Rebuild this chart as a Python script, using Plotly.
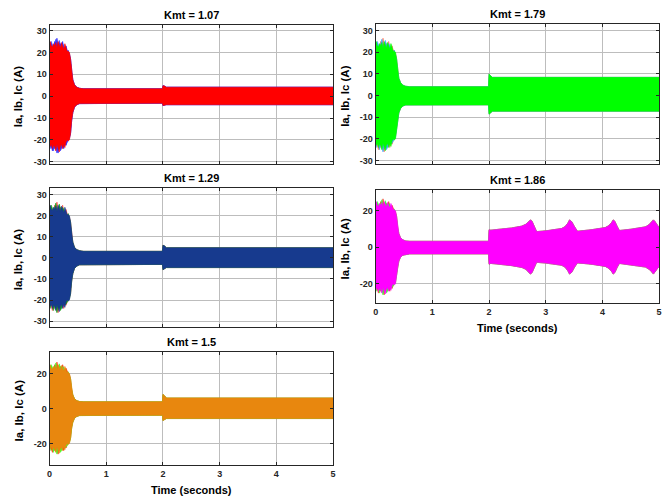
import plotly.graph_objects as go

# ---- data -------------------------------------------------------------
# Run-up envelope (first 0.35 s), peak values per phase (a, b, c)
T_RUNUP = [0.000, 0.010, 0.030, 0.050, 0.070, 0.090, 0.110, 0.130, 0.150, 0.170,
           0.190, 0.210, 0.230, 0.250, 0.270, 0.290, 0.310, 0.330, 0.350]
RUNUP_UP_A = [25.0, 23.0, 24.0, 21.0, 22.0, 25.0, 23.0, 26.5, 23.0, 22.0,
              24.0, 23.0, 25.0, 22.0, 21.0, 23.0, 21.0, 20.0, 19.5]
RUNUP_LO_A = [-24.0, -21.0, -23.0, -25.0, -21.0, -24.0, -23.0, -24.0, -26.0, -23.0,
              -24.0, -23.5, -22.0, -24.0, -21.0, -22.5, -21.0, -19.5, -19.0]
RUNUP_UP_B = [21.0, 24.0, 25.0, 23.0, 22.0, 24.0, 26.0, 23.0, 22.0, 25.5,
              23.0, 22.0, 24.0, 23.0, 22.0, 21.0, 20.0, 21.0, 19.0]
RUNUP_LO_B = [-22.0, -24.0, -21.0, -23.0, -25.0, -22.0, -24.0, -26.0, -23.0, -22.0,
              -25.0, -24.0, -23.0, -21.0, -22.0, -22.0, -21.0, -20.0, -19.5]
RUNUP_UP_C = [22.0, 25.0, 23.0, 22.5, 24.0, 23.0, 24.5, 22.0, 25.0, 23.0,
              22.0, 24.5, 23.0, 21.5, 24.0, 22.0, 20.5, 20.5, 20.0]
RUNUP_LO_C = [-20.0, -23.0, -22.0, -24.0, -22.5, -23.0, -25.0, -22.0, -24.0, -25.5,
              -23.0, -22.0, -24.0, -22.0, -23.5, -21.0, -20.0, -20.5, -20.0]

# Settling and post-2 s envelope (shared by the three phases)
T_TAIL = [0.37, 0.39, 0.41, 0.44, 0.48, 0.53, 0.60, 1.99, 2.00, 2.03, 2.06, 5.00]

TAIL_UP_107 = [17.0, 11.0, 7.5, 5.2, 4.1, 3.6, 3.4, 3.4, 4.8, 4.6, 4.1, 4.1]
TAIL_LO_107 = [-17.0, -11.0, -7.5, -5.0, -3.9, -3.4, -3.2, -3.2, -4.3, -4.2, -3.9, -3.9]

TAIL_UP_129 = [17.0, 11.0, 7.5, 5.0, 3.9, 3.4, 3.1, 3.1, 6.0, 5.6, 4.8, 4.8]
TAIL_LO_129 = [-17.0, -11.0, -7.5, -5.0, -3.9, -3.3, -3.1, -3.1, -5.6, -5.3, -4.6, -4.6]

TAIL_UP_150 = [17.0, 11.0, 7.8, 5.6, 4.5, 4.0, 3.8, 3.8, 8.0, 7.2, 6.0, 6.0]
TAIL_LO_150 = [-17.0, -11.0, -7.8, -5.6, -4.5, -4.0, -3.8, -3.8, -6.8, -6.4, -5.7, -5.7]

TAIL_UP_179 = [17.0, 11.5, 8.0, 6.0, 4.8, 4.3, 4.1, 4.1, 10.0, 9.0, 8.4, 8.4]
TAIL_LO_179 = [-17.0, -11.5, -8.0, -6.0, -4.8, -4.4, -4.3, -4.3, -8.6, -7.8, -7.2, -7.2]

T_TAIL_186 = [0.37, 0.39, 0.41, 0.44, 0.48, 0.53, 0.60, 1.99,
              2.00, 2.03, 2.10, 2.40, 2.58, 2.65, 2.70, 2.73, 2.76, 2.80, 2.84,
              3.00, 3.28, 3.34, 3.39, 3.42, 3.46, 3.51, 3.56,
              3.80, 4.05, 4.11, 4.16, 4.19, 4.22, 4.26, 4.30,
              4.50, 4.76, 4.82, 4.87, 4.90, 4.93, 4.97, 5.00]
TAIL_UP_186 = [17.0, 11.0, 7.5, 5.2, 4.1, 3.5, 3.3, 3.3,
               9.6, 9.4, 9.6, 10.6, 11.6, 12.6, 14.0, 15.0, 14.2, 11.5, 8.6,
               9.0, 10.3, 11.3, 13.2, 15.0, 14.0, 11.2, 8.8,
               9.6, 10.8, 11.8, 13.4, 15.0, 14.2, 11.5, 9.2,
               9.9, 11.2, 12.3, 13.8, 15.0, 14.0, 12.0, 10.8]
TAIL_LO_186 = [-17.0, -11.0, -7.5, -5.4, -4.3, -3.8, -3.6, -3.6,
               -9.2, -8.8, -9.0, -10.0, -11.0, -12.0, -13.5, -14.6, -13.8, -11.0, -8.2,
               -8.6, -9.8, -10.8, -12.8, -14.6, -13.6, -10.8, -8.5,
               -9.2, -10.4, -11.4, -13.0, -14.6, -13.8, -11.0, -8.8,
               -9.5, -10.8, -11.9, -13.4, -14.6, -13.6, -11.6, -10.4]

KMT_LABELS = ["Kmt = 1.07", "Kmt = 1.29", "Kmt = 1.5", "Kmt = 1.79", "Kmt = 1.86"]
Y_TICKS_TALL = [-30, -20, -10, 0, 10, 20, 30]
Y_TICKS_SHORT = [-20, 0, 20]
X_TICKS = [0, 1, 2, 3, 4, 5]

# ---- layout of the five axes (pixel boxes in a 671 x 501 page) --------
W, H = 671, 501
panels = [
    dict(label=KMT_LABELS[0], t=T_TAIL, up=TAIL_UP_107, lo=TAIL_LO_107,
         colors=["#1010ff", "#3a3aff", "#ff0000"],
         box=(47, 333, 25, 165), yr=(-31.0, 32.6), yt=Y_TICKS_TALL, xl=False),
    dict(label=KMT_LABELS[1], t=T_TAIL, up=TAIL_UP_129, lo=TAIL_LO_129,
         colors=["#ff3a3a", "#1aa01a", "#173a8e"],
         box=(47, 333, 189, 329), yr=(-32.8, 33.2), yt=Y_TICKS_TALL, xl=False),
    dict(label=KMT_LABELS[2], t=T_TAIL, up=TAIL_UP_150, lo=TAIL_LO_150,
         colors=["#ff2a00", "#4cff2a", "#e8870e"],
         box=(47, 333, 354, 468), yr=(-32.3, 32.3), yt=Y_TICKS_SHORT, xl=True),
    dict(label=KMT_LABELS[3], t=T_TAIL, up=TAIL_UP_179, lo=TAIL_LO_179,
         colors=["#ff6a4a", "#3aa6ff", "#00ff00"],
         box=(376, 662, 24, 165), yr=(-31.6, 33.1), yt=Y_TICKS_TALL, xl=False),
    dict(label=KMT_LABELS[4], t=T_TAIL_186, up=TAIL_UP_186, lo=TAIL_LO_186,
         colors=["#ff2a2a", "#3aff3a", "#ff00ff"],
         box=(376, 662, 191, 305), yr=(-30.5, 31.4), yt=Y_TICKS_SHORT, xl=True),
]

RUNUP_UP = [RUNUP_UP_A, RUNUP_UP_B, RUNUP_UP_C]
RUNUP_LO = [RUNUP_LO_A, RUNUP_LO_B, RUNUP_LO_C]

FONT = "Liberation Sans, Arial, Helvetica, sans-serif"
AX_COLOR = "#262626"
GRID_COLOR = "#bdbdbd"

fig = go.Figure()
annotations = []
layout_axes = {}

for i, p in enumerate(panels, start=1):
    xname = "x" if i == 1 else f"x{i}"
    yname = "y" if i == 1 else f"y{i}"
    l, r, t, b = p["box"]

    # each phase current drawn as its dense-oscillation envelope band
    for ph in range(3):
        tt = T_RUNUP + p["t"]
        up = RUNUP_UP[ph] + p["up"]
        lo = RUNUP_LO[ph] + p["lo"]
        fig.add_trace(go.Scatter(
            x=tt + tt[::-1], y=up + lo[::-1],
            mode="lines", fill="toself",
            fillcolor=p["colors"][ph],
            line=dict(color=p["colors"][ph], width=0.6),
            xaxis=xname, yaxis=yname,
            hoverinfo="skip", showlegend=False,
        ))

    common = dict(
        tickfont=dict(family=FONT, size=9, color="#262626", weight="bold"),
        showgrid=True, gridcolor=GRID_COLOR, gridwidth=1,
        showline=True, linecolor=AX_COLOR, linewidth=1, mirror="ticks",
        ticks="inside", ticklen=3, tickcolor=AX_COLOR,
        zeroline=False, fixedrange=True,
    )
    xkey = "xaxis" if i == 1 else f"xaxis{i}"
    ykey = "yaxis" if i == 1 else f"yaxis{i}"
    layout_axes[xkey] = dict(
        domain=[l / W, r / W], anchor=yname, range=[0, 5],
        tickvals=X_TICKS, ticktext=[str(v) for v in X_TICKS],
        showticklabels=p["xl"], **common,
    )
    layout_axes[ykey] = dict(
        domain=[1 - b / H, 1 - t / H], anchor=xname, range=list(p["yr"]),
        tickvals=p["yt"], ticktext=[str(v) for v in p["yt"]], **common,
    )

    # title
    annotations.append(dict(
        text=f"<b>{p['label']}</b>", x=(l + r) / 2 / W, y=1 - (t - 9.5) / H,
        xref="paper", yref="paper", xanchor="center", yanchor="middle",
        showarrow=False, font=dict(family=FONT, size=11, color="#000000"),
    ))
    # y label
    annotations.append(dict(
        text="<b>Ia, Ib, Ic (A)</b>", x=(l - 31) / W, y=1 - ((t + b) / 2 + 2) / H,
        xref="paper", yref="paper", xanchor="center", yanchor="middle",
        textangle=-90, showarrow=False,
        font=dict(family=FONT, size=11.5, color="#000000"),
    ))
    # x label
    if p["xl"]:
        annotations.append(dict(
            text="<b>Time (seconds)</b>", x=(l + r) / 2 / W, y=1 - (b + 25) / H,
            xref="paper", yref="paper", xanchor="center", yanchor="middle",
            showarrow=False, font=dict(family=FONT, size=11, color="#000000"),
        ))

fig.update_layout(
    width=W, height=H,
    margin=dict(l=0, r=0, t=0, b=0),
    paper_bgcolor="white", plot_bgcolor="white",
    annotations=annotations,
    **layout_axes,
)

fig.write_html("out.html", config={"displayModeBar": False})
